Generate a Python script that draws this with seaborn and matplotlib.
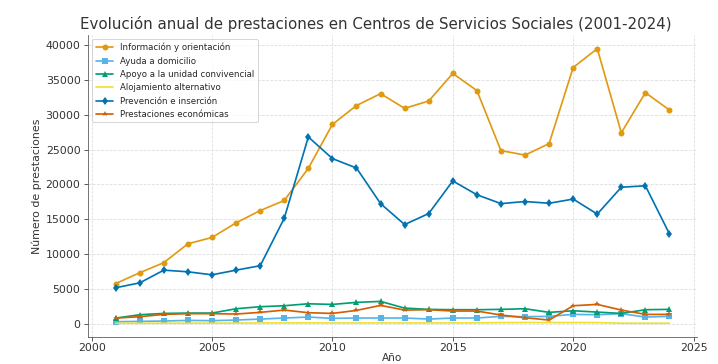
import numpy as np
import pandas as pd
import matplotlib
matplotlib.use("Agg")
import matplotlib.pyplot as plt
import seaborn as sns

years = list(range(2001, 2025))

informacion = [5800, 7350, 8800, 11500, 12400, 14500, 16250, 17700, 22300, 28600, 31300, 33000,
               30900, 31950, 35900, 33450, 24850, 24200, 25850, 36750, 39450, 27400, 33150, 30650]
ayuda = [330, 380, 430, 520, 480, 570, 710, 860, 1000, 810, 860, 860,
         860, 710, 860, 860, 1100, 1050, 1100, 1380, 1330, 1480, 1000, 1100]
apoyo = [850, 1330, 1520, 1570, 1570, 2190, 2480, 2620, 2900, 2810, 3100, 3240,
         2280, 2100, 2050, 2050, 2100, 2190, 1670, 1900, 1710, 1520, 2050, 2100]
alojamiento = [100, 110, 120, 120, 130, 140, 150, 160, 170, 150, 150, 160,
               150, 150, 160, 160, 200, 210, 200, 210, 200, 120, 110, 120]
prevencion = [5200, 5900, 7720, 7480, 7050, 7720, 8350, 15150, 26800, 23700, 22350, 17250,
              14250, 15830, 20500, 18520, 17250, 17550, 17300, 17900, 15750, 19600, 19800, 12900]
economicas = [850, 1050, 1380, 1480, 1480, 1430, 1670, 2000, 1620, 1520, 1950, 2670,
              2000, 2050, 1860, 1860, 1290, 900, 570, 2620, 2810, 2000, 1380, 1380]

series = {
    "Información y orientación": (informacion, "o", "#e09a12"),
    "Ayuda a domicilio": (ayuda, "s", "#56b4e9"),
    "Apoyo a la unidad convivencial": (apoyo, "^", "#029e73"),
    "Alojamiento alternativo": (alojamiento, "", "#ece133"),
    "Prevención e inserción": (prevencion, "d", "#0173b2"),
    "Prestaciones económicas": (economicas, "*", "#d55e00"),
}

sns.set_style("whitegrid", {"grid.linestyle": "--", "grid.color": "#dcdcdc",
                            "axes.edgecolor": "#555555"})

fig, ax = plt.subplots(figsize=(10, 5.07), dpi=71.8)

for name, (vals, mk, col) in series.items():
    df = pd.DataFrame({"Año": years, "val": vals})
    sns.lineplot(data=df, x="Año", y="val", marker=mk if mk else None, color=col,
                 label=name, ax=ax, linewidth=1.7, markersize=6, markeredgewidth=0)

ax.set_title("Evolución anual de prestaciones en Centros de Servicios Sociales (2001-2024)",
             fontsize=15, color="#333333", x=0.473)
ax.set_xlabel("Año", fontsize=10.5, color="#333333", labelpad=0)
ax.set_ylabel("Número de prestaciones", fontsize=11, color="#333333")
ax.tick_params(labelsize=11, colors="#333333", length=4, width=0.8, left=True, bottom=True)
ax.tick_params(axis="x", pad=2)
ax.set_xticks([2000, 2005, 2010, 2015, 2020, 2025])
ax.spines["top"].set_visible(False)
ax.spines["right"].set_visible(False)
ax.legend(loc="upper left", fontsize=8.7, frameon=True)

fig.subplots_adjust(left=0.1226, right=0.971, top=0.904, bottom=0.074)
fig.savefig("out.png", dpi=71.8)
